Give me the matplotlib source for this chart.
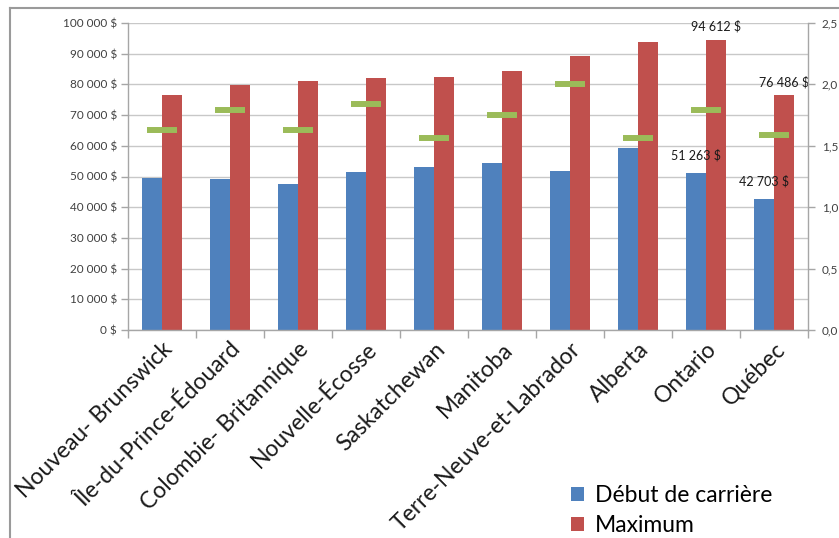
import matplotlib
matplotlib.use("Agg")
import matplotlib.pyplot as plt
from matplotlib.patches import Patch
from matplotlib.lines import Line2D
import numpy as np

plt.rcParams['font.family'] = ['Lato', 'DejaVu Sans']

provinces = ["Nouveau- Brunswick", "Île-du-Prince-Édouard", "Colombie- Britannique",
             "Nouvelle-Écosse", "Saskatchewan", "Manitoba", "Terre-Neuve-et-Labrador",
             "Alberta", "Ontario", "Québec"]
debut = [49400, 49100, 47500, 51400, 53100, 54500, 51900, 59200, 51263, 42703]
maximum = [76400, 79900, 81000, 82000, 82500, 84500, 89300, 93900, 94612, 76486]
ratio = [1.63, 1.79, 1.63, 1.84, 1.56, 1.75, 2.00, 1.56, 1.79, 1.59]

# values written above the last two provinces
labelled_debut = {8: "51 263 $", 9: "42 703 $"}
labelled_max = {8: "94 612 $", 9: "76 486 $"}

left_ticks = list(range(0, 100001, 10000))
right_ticks = [0.0, 0.5, 1.0, 1.5, 2.0, 2.5]

BLUE = "#4F81BD"
RED = "#C0504D"
GREEN = "#9BBB59"
GRID = "#C8C8C8"
AXIS = "#A6A6A6"

W, H = 839, 538
fig = plt.figure(figsize=(W / 100, H / 100), dpi=100)
ax = fig.add_axes([128 / W, 1 - 330 / H, (808 - 128) / W, (330 - 23) / H])

x = np.arange(len(provinces))
bw = 0.29
ax.bar(x - bw / 2, debut, width=bw, color=BLUE, zorder=2)
ax.bar(x + bw / 2, maximum, width=bw, color=RED, zorder=2)

ax.set_xlim(-0.5, len(provinces) - 0.5)
ax.set_ylim(0, 100000)
ax.set_yticks(left_ticks)
ax.set_yticklabels([f"{v:,} $".replace(",", " ") for v in left_ticks], fontsize=8.5, color="#404040")
ax.yaxis.grid(True, color=GRID, linewidth=1)
ax.set_axisbelow(True)

ax.set_xticks(x)
ax.set_xticklabels(provinces, rotation=45, ha="right", va="top",
                   rotation_mode="anchor", fontsize=16.5, color="#1a1a1a")
ax.tick_params(axis="x", which="major", length=0, pad=6)
ax.set_xticks(np.arange(-0.5, len(provinces)), minor=True)
ax.tick_params(axis="x", which="minor", length=6, color=AXIS, width=1)
ax.tick_params(axis="y", length=5, color=AXIS, width=1, pad=3)

for s in ["top", "right"]:
    ax.spines[s].set_visible(False)
for s in ["left", "bottom"]:
    ax.spines[s].set_color(AXIS)
    ax.spines[s].set_linewidth(1)

for i, t in labelled_debut.items():
    ax.annotate(t, (x[i] - bw / 2, debut[i]), xytext=(0, 8), textcoords="offset points",
                ha="center", va="bottom", fontsize=9, color="#1a1a1a", zorder=5)
for i, t in labelled_max.items():
    ax.annotate(t, (x[i] + bw / 2, maximum[i]), xytext=(0, 5), textcoords="offset points",
                ha="center", va="bottom", fontsize=9, color="#1a1a1a", zorder=5)

ax2 = ax.twinx()
ax2.set_ylim(0, 2.5)
ax2.set_yticks(right_ticks)
ax2.set_yticklabels([f"{v:.1f}".replace(".", ",") for v in right_ticks], fontsize=8.5, color="#404040")
ax2.plot(x, ratio, linestyle="none", marker="_", markersize=21.5,
         markeredgewidth=4.3, color=GREEN, zorder=3)
ax2.tick_params(axis="y", length=5, color=AXIS, width=1, pad=5)
for s in ["top", "left", "bottom"]:
    ax2.spines[s].set_visible(False)
ax2.spines["right"].set_color(AXIS)
ax2.spines["right"].set_linewidth(1)

# chart frame
fig.add_artist(Line2D([10 / W, 10 / W], [0, 1 - 8 / H], color="#9A9A9A", linewidth=1.5))
fig.add_artist(Line2D([10 / W, 1], [1 - 8 / H, 1 - 8 / H], color="#9A9A9A", linewidth=1.5))

handles = [Patch(facecolor=BLUE, label="Début de carrière"),
           Patch(facecolor=RED, label="Maximum")]
fig.legend(handles=handles, loc="upper left", bbox_to_anchor=(562 / W, 1 - 476 / H),
           frameon=False, fontsize=16.5, handlelength=0.55, handleheight=0.55,
           handletextpad=0.5, labelspacing=0.4, borderaxespad=0)

fig.savefig("out.png", dpi=100)
